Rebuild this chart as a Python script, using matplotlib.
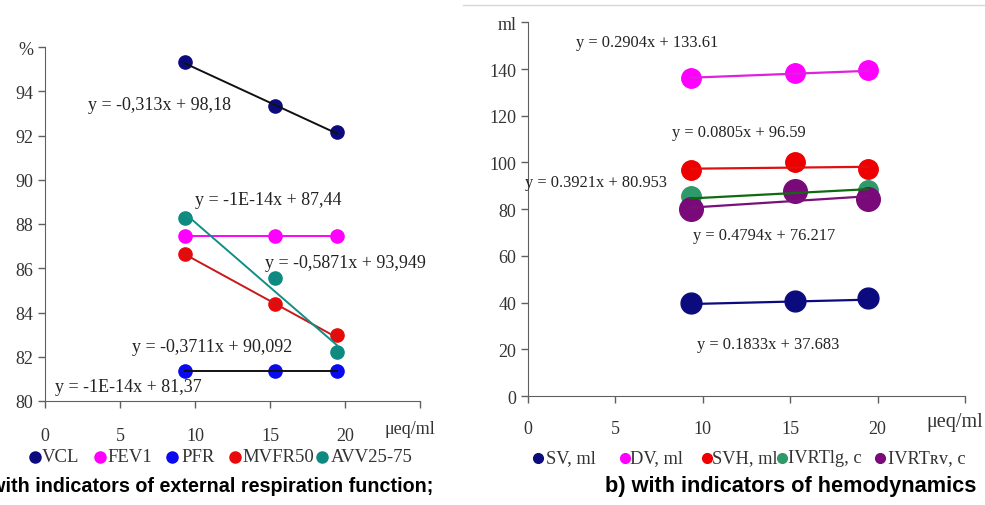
import numpy as np
import matplotlib.pyplot as plt
from matplotlib.lines import Line2D

plt.rcParams['font.family'] = ['Liberation Serif', 'DejaVu Serif']

# concentration, ueq/ml
conc = [9.3, 15.3, 19.45]

# a) external respiration, %
resp_names = ['VCL', 'FEV1', 'PFR', 'MVFR50', 'AVV25-75']
resp_vals = [
    [95.33, 93.34, 92.15],
    [87.44, 87.44, 87.44],
    [81.37, 81.37, 81.37],
    [86.66, 84.37, 82.97],
    [88.28, 85.58, 82.2],
]
resp_slope = [-0.313, -1e-14, -1e-14, -0.3711, -0.5871]
resp_icpt = [98.18, 87.44, 81.37, 90.092, 93.949]
resp_eq = ['y = -0,313x + 98,18', 'y = -1E-14x + 87,44', 'y = -1E-14x + 81,37',
           'y = -0,3711x + 90,092', 'y = -0,5871x + 93,949']

# b) hemodynamics, ml
hem_names = ['SV, ml', 'DV, ml', 'SVH, ml', 'IVRTlg, c', 'IVRTʀᴠ, c']
hem_vals = [
    [39.8, 40.8, 41.8],
    [136.3, 138.5, 139.6],
    [96.8, 100.4, 97.2],
    [85.5, 88.0, 88.3],
    [80.0, 87.8, 84.3],
]
hem_slope = [0.1833, 0.2904, 0.0805, 0.3921, 0.4794]
hem_icpt = [37.683, 133.61, 96.59, 80.953, 76.217]
hem_eq = ['y = 0.1833x + 37.683', 'y = 0.2904x + 133.61', 'y = 0.0805x + 96.59',
          'y = 0.3921x + 80.953', 'y = 0.4794x + 76.217']

resp_mc = ['#0b0b7e', '#ff00ff', '#0a0af0', '#e80a0a', '#0f8a80']
resp_lc = ['#111111', '#ff00ff', '#111111', '#c81818', '#108f86']
hem_mc = ['#0b0b7e', '#ff00ff', '#ee0000', '#2e9a6a', '#7a0a7a']
hem_lc = ['#0b0b7e', '#e020e0', '#e01010', '#106a10', '#7a107a']
hem_ms = [15, 14, 14, 14, 17]

FS = 13
CAP_FONT = 'Liberation Sans'

fig = plt.figure(figsize=(9.85, 5.06), dpi=100)

def style(ax):
    for s in ['top', 'right']:
        ax.spines[s].set_visible(False)
    for s in ['left', 'bottom']:
        ax.spines[s].set_color('#606060')
    ax.tick_params(colors='#606060', labelcolor='#333333', labelsize=FS,
                   length=5, width=1)

def legend_row(px_marks, px_texts, py, names, colors, ms, fs):
    for xm, xt, n, c in zip(px_marks, px_texts, names, colors):
        fig.add_artist(Line2D([xm/985], [1-py/506], marker='o', ls='', color=c, ms=ms))
        fig.text(xt/985, 1-py/506, n, fontsize=fs, color='#333333', va='center')

# ---- a)
ax1 = fig.add_axes([45/985, 1-402/506, 375/985, 354/506])
style(ax1)
ax1.set_xlim(0, 25)
ax1.set_ylim(80, 96)
ax1.set_xticks([0, 5, 10, 15, 20, 25])
ax1.set_xticklabels(['0', '5', '10', '15', '20', ''])
ax1.set_yticks(range(80, 97, 2))
ax1.set_yticklabels([str(v) for v in range(80, 95, 2)] + ['%'])
ax1.tick_params(axis='x', pad=14)
xs = np.array([conc[0], conc[-1]])
for i in range(5):
    ax1.plot(conc, resp_vals[i], 'o', color=resp_mc[i], ms=9.5, zorder=3)
    ax1.plot(xs, resp_slope[i]*xs + resp_icpt[i], color=resp_lc[i], lw=1.4, zorder=4)
eq_pos = [(88, 106), (195, 201), (55, 387), (132, 348), (265, 263)]
for (px, py), t in zip(eq_pos, resp_eq):
    fig.text(px/985, 1-py/506, t, fontsize=FS, color='#222222', va='center')
fig.text(385/985, 1-430/506, 'μeq/ml', fontsize=FS, color='#333333', va='center')

legend_row([35, 100, 172, 235, 322], [42, 107, 181, 242, 331], 458,
           resp_names, resp_mc, 8, 13.5)
fig.text(433/985, 1-487/506, 'a) with indicators of external respiration function;',
         fontsize=14.2, fontweight='bold', family=CAP_FONT,
         ha='right', va='center')

# ---- b)
ax2 = fig.add_axes([528/985, 1-397/506, 437/985, 373.6/506])
style(ax2)
ax2.set_xlim(0, 25)
ax2.set_ylim(0, 160)
ax2.set_xticks([0, 5, 10, 15, 20, 25])
ax2.set_xticklabels(['0', '5', '10', '15', '20', ''])
ax2.set_yticks(range(0, 161, 20))
ax2.set_yticklabels([str(v) for v in range(0, 141, 20)] + ['ml'])
ax2.tick_params(axis='x', pad=12)
for i in range(5):
    ax2.plot(conc, hem_vals[i], 'o', color=hem_mc[i], ms=hem_ms[i], zorder=3)
    ax2.plot(xs, hem_slope[i]*xs + hem_icpt[i], color=hem_lc[i], lw=1.6, zorder=4)
eq_pos2 = [(697, 345), (576, 43), (672, 133), (525, 183), (693, 236)]
for (px, py), t in zip(eq_pos2, hem_eq):
    fig.text(px/985, 1-py/506, t, fontsize=11.8, color='#222222', va='center')
fig.text(926/985, 1-423/506, 'μeq/ml', fontsize=14.5, color='#333333', va='center')

legend_row([538, 625, 707, 782, 880], [546, 630, 712, 788, 888], 459,
           hem_names, hem_mc, 7, 13.2)
fig.text(605/985, 1-487/506, 'b) with indicators of hemodynamics',
         fontsize=15.7, fontweight='bold', family=CAP_FONT,
         ha='left', va='center')

fig.add_artist(Line2D([463/985, 1], [1-6/506, 1-6/506], color='#d8d8d8', lw=1))

fig.savefig('out.png', dpi=100)
